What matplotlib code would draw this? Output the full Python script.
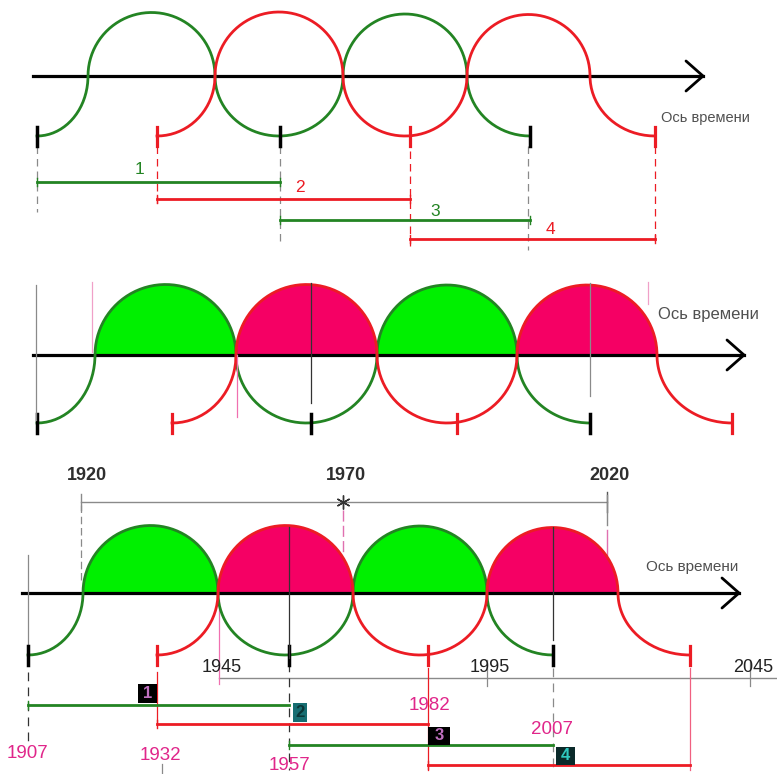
import numpy as np
import matplotlib.pyplot as plt
from matplotlib.patches import Rectangle

plt.rcParams['font.family'] = ['Liberation Sans', 'DejaVu Sans']

# years marked on the lower scheme
start_years = [1907, 1932, 1957, 1982, 2007]
upper_years = [1920, 1970, 2020]
lower_years = [1945, 1995, 2045]
bar_names = ['1', '2', '3', '4']
axis_text = 'Ось времени'

GREEN = '#238423'
RED = '#ec1c24'
FILL_G = '#00f000'
FILL_R = '#f50064'
PINK = '#e0268a'
GRAY = '#8a8a8a'

# geometry of the three schemes (pixels)
panels = [
    dict(y=76, x0=33, x1=703, cross=[88, 215, 343, 467, 590], d=60,
         g=[37, 280, 530], r=[157, 410, 655], fill=False, fs=10.5, lab=(705, 118)),
    dict(y=355, x0=33, x1=744, cross=[95, 236, 377, 517, 657], d=68,
         g=[37, 311, 590], r=[172, 457, 732], fill=True, fs=12, lab=(708, 314)),
    dict(y=593, x0=22, x1=739, cross=[83, 218, 353, 487, 618], d=62,
         g=[28, 289, 553], r=[157, 428, 690], fill=True, fs=11, lab=(692, 567)),
]


def wave(c, ticks, y, d):
    xs, ys, tops = [], [], []
    t = np.linspace(np.pi / 2, 0, 40)
    rx = c[0] - ticks[0]
    xs += list(ticks[0] + rx * np.cos(t))
    ys += list(y + d * np.sin(t))
    for i in range(3):
        m = (c[i] + c[i + 1]) / 2
        r = (c[i + 1] - c[i]) / 2
        t = np.linspace(0, np.pi, 90)
        px = m - r * np.cos(t)
        if i % 2 == 0:
            py = y - r * np.sin(t)
            tops.append((px, py))
        else:
            py = y + d * np.sin(t)
        xs += list(px)
        ys += list(py)
    rx = ticks[2] - c[3]
    t = np.linspace(0, np.pi / 2, 40)
    xs += list(ticks[2] - rx * np.cos(t))
    ys += list(y + d * np.sin(t))
    return xs, ys, tops


fig = plt.figure(figsize=(7.77, 7.74), dpi=100)
ax = fig.add_axes([0, 0, 1, 1])
ax.set_xlim(0, 777)
ax.set_ylim(774, 0)
ax.axis('off')

for p in panels:
    y, d = p['y'], p['d']
    gx, gy, gtops = wave(p['cross'][:4], p['g'], y, d)
    rx, ry, rtops = wave(p['cross'][1:], p['r'], y, d)
    if p['fill']:
        for px, py in gtops:
            ax.fill(px, py, color=FILL_G, lw=0, zorder=1)
        for px, py in rtops:
            ax.fill(px, py, color=FILL_R, lw=0, zorder=1)
    # time axis with arrow
    ax.plot([p['x0'], p['x1']], [y, y], color='black', lw=2.3, zorder=2)
    ax.plot([p['x1'] - 17, p['x1'], p['x1'] - 17], [y - 15, y, y + 15],
            color='black', lw=2.0, zorder=2, solid_capstyle='round')
    ax.plot(gx, gy, color=GREEN, lw=2.0, zorder=3)
    ax.plot(rx, ry, color=RED, lw=2.0, zorder=3)
    for x in p['g']:
        ax.plot([x, x], [y + d - 9, y + d + 10], color='black', lw=2.5, zorder=4)
    for x in p['r']:
        ax.plot([x, x], [y + d - 9, y + d + 10], color=RED, lw=2.3, zorder=4)
    ax.text(p['lab'][0], p['lab'][1], axis_text, fontsize=p['fs'],
            color='#505050', ha='center', va='center')

# ---- scheme 1: periods under the waves
p = panels[0]
bars1 = [(p['g'][0], p['g'][1], 182, GREEN), (p['r'][0], p['r'][1], 199, RED),
         (p['g'][1], p['g'][2], 220, GREEN), (p['r'][1], p['r'][2], 239, RED)]
lab1 = [(140, 170), (300, 188), (435, 212), (550, 229)]
for (a, b, yy, col), (lx, ly), name in zip(bars1, lab1, bar_names):
    ax.plot([a, b], [yy, yy], color=col, lw=2.0, zorder=3)
    ax.plot([a, a], [yy - 4, yy + 4], color=col, lw=1, zorder=3)
    ax.plot([b, b], [yy - 4, yy + 4], color=col, lw=1, zorder=3)
    ax.text(lx, ly, name, color=col, fontsize=12.5, ha='center', va='center')
for x, y0, y1, col in [(37, 146, 212, GRAY), (157, 146, 206, RED), (280, 146, 246, GRAY),
                       (410, 126, 246, RED), (528, 146, 250, GRAY), (655, 146, 246, RED)]:
    ax.plot([x, x], [y0, y1], color=col, lw=0.9, ls=(0, (6, 4)), zorder=2)

# ---- scheme 2: guide lines
for x, y0, y1, col in [(36, 285, 420, GRAY), (92, 282, 352, '#f0a0c8'),
                       (237, 355, 417, '#f070b0'), (311, 283, 403, '#333333'),
                       (590, 283, 396, GRAY), (648, 282, 304, '#f0a0c8')]:
    ax.plot([x, x], [y0, y1], color=col, lw=0.9, zorder=5)

# ---- scheme 3: year scales
p = panels[2]
up_x = [81, 343, 607]
ax.plot([up_x[0], up_x[-1]], [502, 502], color=GRAY, lw=1.0, zorder=2)
for x, yr in zip(up_x, upper_years):
    ax.text(x + 6 if x == up_x[0] else x + 3, 476, str(yr), fontsize=13, fontweight='bold',
            color='#2e2e2e', ha='center', va='center')
ax.plot([81, 81], [494, 510], color=GRAY, lw=1.0)
ax.plot([607, 607], [492, 512], color='#555555', lw=1.0)
ax.plot([343], [502], marker=(6, 2, 0), color='#333333', ms=10, mew=1.0, zorder=3)
ax.plot([81, 81], [505, 582], color=GRAY, lw=0.9, ls=(0, (6, 3)))
ax.plot([343, 343], [510, 554], color='#e070b0', lw=1.0, ls=(0, (8, 3)))
ax.plot([607, 607], [495, 525], color=GRAY, lw=1.0)
ax.plot([607, 607], [530, 555], color='#e070b0', lw=1.0)

low_x = [219, 487, 750]
ax.plot([low_x[0], 777], [678, 678], color=GRAY, lw=1.0, zorder=2)
for x, yr in zip(low_x, lower_years):
    ax.text(x + 3, 667, str(yr), fontsize=13, color='#222222', ha='center', va='center')
ax.plot([487, 487], [660, 686], color=GRAY, lw=0.9)
ax.plot([750, 750], [660, 686], color=GRAY, lw=0.9)
ax.plot([219, 219], [600, 684], color='#f070b0', lw=0.9)

for x, y0, y1 in [(289, 527, 658), (553, 527, 640)]:
    ax.plot([x, x], [y0, y1], color='#333333', lw=0.9, zorder=5)
ax.plot([28, 28], [555, 648], color=GRAY, lw=0.9)

for x, y0, y1, col, ls in [(28, 672, 746, '#333333', (0, (7, 5))), (157, 672, 724, RED, '-'),
                           (289, 663, 770, '#333333', (0, (7, 5))), (428, 668, 770, RED, '-'),
                           (553, 668, 770, GRAY, (0, (7, 5))), (690, 668, 770, '#f06080', '-'),
                           (162, 764, 774, GRAY, '-')]:
    ax.plot([x, x], [y0, y1], color=col, lw=0.9, ls=ls, zorder=2)

bars3 = [(p['g'][0], p['g'][1], 705, GREEN), (p['r'][0], p['r'][1], 724, RED),
         (p['g'][1], p['g'][2], 745, GREEN), (p['r'][1], p['r'][2], 765, RED)]
boxes = [(138, 684, 19, 19, 'black', '#c070c0'), (293, 703, 14, 19, '#176e72', '#0a3536'),
         (428, 727, 22, 18, 'black', '#c070c0'), (556, 747, 19, 18, '#0b2a2a', '#30c8c0')]
for (a, b, yy, col), (bx, by, bw, bh, fc, tc), name in zip(bars3, boxes, bar_names):
    ax.plot([a, b], [yy, yy], color=col, lw=2.0, zorder=3)
    ax.plot([a, a], [yy - 4, yy + 4], color=col, lw=1, zorder=3)
    ax.add_patch(Rectangle((bx, by), bw, bh, facecolor=fc, edgecolor='none', zorder=6))
    ax.text(bx + bw / 2, by + bh / 2, name, color=tc, fontsize=12, fontweight='bold',
            ha='center', va='center', zorder=7)

year_pos = [(28, 753), (160, 755), (289, 766), (430, 705), (552, 730)]
for (x, yy), yr in zip(year_pos, start_years):
    ax.text(x, yy, str(yr), color=PINK, fontsize=13.5, ha='center', va='center')

fig.savefig('out.png', dpi=100)
